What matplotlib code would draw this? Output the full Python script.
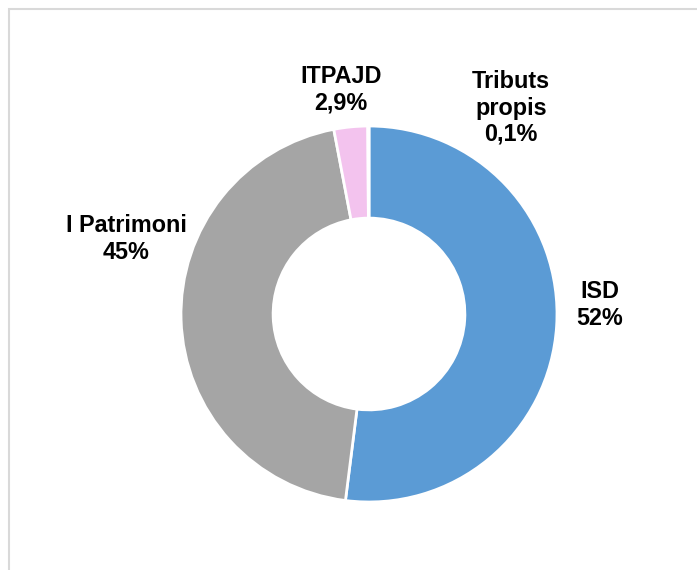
import matplotlib
matplotlib.use("Agg")
import matplotlib.pyplot as plt
from matplotlib.patches import Rectangle

plt.rcParams["font.family"] = ["Liberation Sans", "DejaVu Sans"]

# data
labels = ["ISD", "I Patrimoni", "ITPAJD", "Tributs\npropis"]
shares = [52.0, 45.0, 2.9, 0.1]
share_txt = ["52%", "45%", "2,9%", "0,1%"]
colors = ["#5B9BD5", "#A5A5A5", "#F3C3EE", "#FFC000"]

W, H = 697, 570
fig = plt.figure(figsize=(W / 100, H / 100), dpi=100)
ax = fig.add_axes([0, 0, 1, 1])
ax.set_xlim(0, W); ax.set_ylim(0, H)
ax.set_aspect("equal"); ax.axis("off")

cx, cy, r = 369, H - 314, 188
ax.pie(shares, colors=colors, startangle=90, counterclock=False,
       center=(cx, cy), radius=r, frame=True,
       wedgeprops=dict(width=r * 0.49, edgecolor="white", linewidth=2))
ax.set_xlim(0, W); ax.set_ylim(0, H); ax.axis("off")

# label positions (pixel coords, top-left origin)
lab_pos = [(600, 305), (126, 239), (341, 90), (511, 108)]
for lab, pct, (x, y) in zip(labels, share_txt, lab_pos):
    ax.text(x, H - y, f"{lab}\n{pct}", ha="center", va="center",
            fontsize=16.8, fontweight="bold", linespacing=1.18, color="black")

# chart frame (only top/left edges visible in the crop)
ax.add_patch(Rectangle((8.5, -20), W + 20, H - 8.5 + 20, fill=False,
                       edgecolor="#D9D9D9", linewidth=1.5))

fig.savefig("out.png", dpi=100, facecolor="white")
